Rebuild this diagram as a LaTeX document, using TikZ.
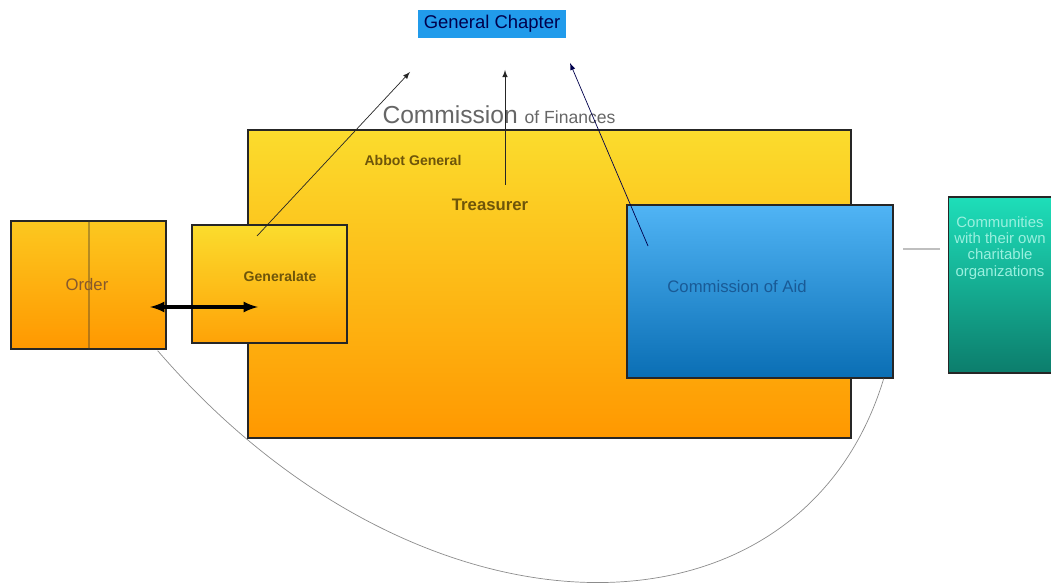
\documentclass[tikz,border=0pt]{standalone}
\usepackage{fontspec}
\setmainfont{Liberation Sans}

\definecolor{boxyellow}{RGB}{251,220,45}
\definecolor{boxorange}{RGB}{255,152,0}
\definecolor{aidtop}{RGB}{80,180,245}
\definecolor{aidbottom}{RGB}{10,110,180}
\definecolor{commtop}{RGB}{30,222,185}
\definecolor{commbottom}{RGB}{12,125,108}
\definecolor{chapterblue}{RGB}{33,155,235}
\definecolor{labelbrown}{RGB}{110,85,10}
\definecolor{aidtext}{RGB}{25,90,150}

\begin{document}
\begin{tikzpicture}[x=0.02cm, y=-0.02cm, >=latex,
  box/.style={draw=black!85, line width=0.8pt, rectangle, inner sep=0pt},
  goldbox/.style={box, top color=boxyellow, bottom color=boxorange},
  lbl/.style={font=\bfseries\fontsize{8}{9}\selectfont, text=labelbrown},
  tochapter/.style={->, thin, black!85}]

\useasboundingbox (0,0) rectangle (1051,587);

% the boxes
\node[box, draw=none, fill=chapterblue, minimum width=2.96cm, minimum height=0.56cm,
  text=black!70!blue, font=\fontsize{10.5}{12}\selectfont] (chapter) at (492,24) {General Chapter};
\node[goldbox, minimum width=12.06cm, minimum height=6.16cm] (finance) at (549.5,284) {};
\node[goldbox, top color=boxyellow!70!boxorange, minimum width=3.1cm, minimum height=2.56cm] (order) at (88.5,285) {};
\draw[black!80] (order.north) ++(0.5,0) -- ([xshift=0.01cm]order.south);
\node[goldbox, bottom color=boxorange!85!boxyellow, minimum width=3.1cm, minimum height=2.36cm] (generalate) at (269.5,284) {};
\node[box, top color=aidtop, bottom color=aidbottom, minimum width=5.32cm, minimum height=3.46cm] (aid) at (760,291.5) {};
\node[box, top color=commtop, bottom color=commbottom, minimum width=2.3cm, minimum height=3.52cm] (comm) at (1006,285) {};

% the labels
\node[font=\fontsize{14}{16}\selectfont, text=black!60, inner sep=0pt] (finance-title) at (499,115)
  {Commission {\fontsize{10}{12}\selectfont of Finances}};
\node[lbl] (abbot) at (413,160) {Abbot General};
\node[lbl, font=\bfseries\fontsize{9.5}{11}\selectfont] (treasurer) at (490,205) {Treasurer};
\node[lbl] (generalate-text) at (280,276) {Generalate};
\node[font=\fontsize{9.5}{11}\selectfont, text=brown!70!black] (order-text) at (87,285) {Order};
\node[font=\fontsize{9.5}{11}\selectfont, text=aidtext] (aid-text) at (737,287) {Commission of Aid};
\node[align=center, font=\fontsize{8.5}{9.2}\selectfont, text=commtop!45!white] (comm-text) at (1000,248)
  {Communities\\with their own\\charitable\\organizations};

% links up to the chapter
\coordinate (gen-start) at (257,236);
\coordinate (gen-end) at (410,72);
\coordinate (tre-start) at (505,185);
\coordinate (tre-end) at (505,70);
\coordinate (aid-start) at (648,246);
\coordinate (aid-end) at (570,63);
\draw[tochapter] (gen-start) -- (gen-end);
\draw[tochapter] (tre-start) -- (tre-end);
\draw[tochapter, black!70!blue] (aid-start) -- (aid-end);

% order <-> generalate
\coordinate (swap-a) at (150,307);
\coordinate (swap-b) at (258,307);
\draw[<->, line width=1.8pt] (swap-a) -- (swap-b);

% link to the communities
\coordinate (link-a) at (903,249);
\coordinate (link-b) at (940,249);
\draw[gray!50, line width=0.8pt] (link-a) -- (link-b);

% the long arc under everything
\draw[gray!90, thin] (order.south east) ++(-9,1) .. controls (420,655) and (800,655) .. ([xshift=-0.2cm]aid.south east);

\end{tikzpicture}
\end{document}
